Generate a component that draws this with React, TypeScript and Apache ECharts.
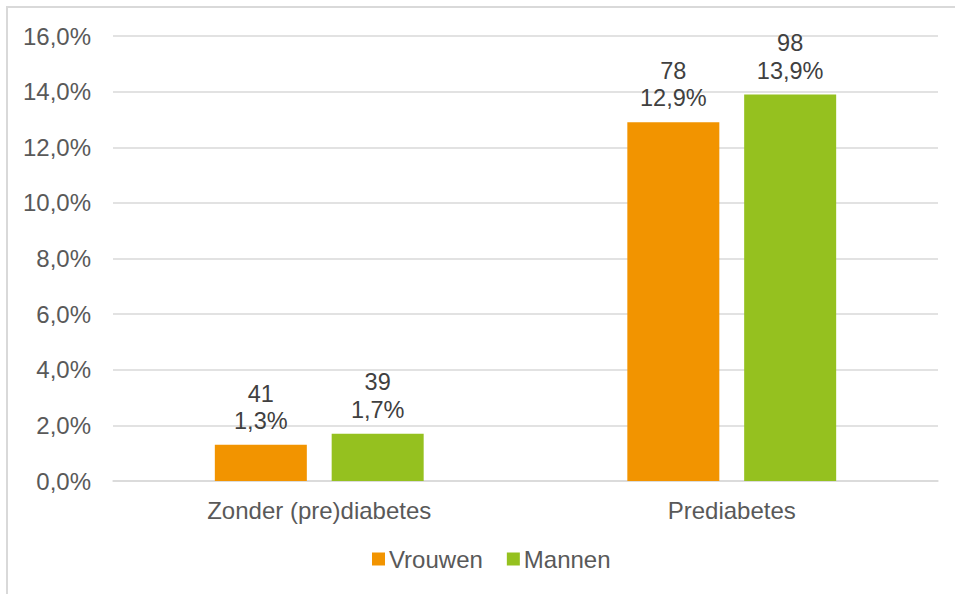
import React, { useEffect, useRef } from "react";
import * as echarts from "echarts";

const categories = ["Zonder (pre)diabetes", "Prediabetes"];
const vrouwenPct = [1.3, 12.9];
const vrouwenN = [41, 78];
const mannenPct = [1.7, 13.9];
const mannenN = [39, 98];
const seriesNames = ["Vrouwen", "Mannen"];

const FONT = "'Liberation Sans', Arial, sans-serif";
const fmt = (v: number) => v.toFixed(1).replace(".", ",");

export default function App() {
  const ref = useRef<HTMLDivElement>(null);
  useEffect(() => {
    document.body.style.margin = "0";
    const chart = echarts.init(ref.current!, null, { renderer: "svg" });
    const mkLabel = (counts: number[]) => ({
      show: true,
      position: "top" as const,
      distance: 10,
      color: "#404040",
      fontSize: 23.5,
      lineHeight: 27.5,
      fontFamily: FONT,
      formatter: (p: any) => `${counts[p.dataIndex]}\n${fmt(p.value)}%`,
    });
    chart.setOption({
      animation: false,
      backgroundColor: "#ffffff",
      textStyle: { fontFamily: FONT },
      graphic: [
        {
          type: "rect",
          shape: { x: 7, y: 7, width: 1100, height: 800 },
          style: { fill: "none", stroke: "#d9d9d9", lineWidth: 2 },
          silent: true,
          z: -1,
        },
      ],
      grid: { left: 113, right: 17, top: 36, bottom: 113, containLabel: false },
      legend: {
        data: seriesNames,
        bottom: 18,
        left: 367,
        itemWidth: 13,
        itemHeight: 13,
        itemGap: 24,
        icon: "rect",
        textStyle: { color: "#595959", fontSize: 24, fontFamily: FONT, padding: [0, 0, 0, -1] },
      },
      xAxis: {
        type: "category",
        data: categories,
        axisLine: { lineStyle: { color: "#d9d9d9", width: 1.5 } },
        axisTick: { show: false },
        axisLabel: { color: "#595959", fontSize: 24, fontFamily: FONT, margin: 17 },
      },
      yAxis: {
        type: "value",
        min: 0,
        max: 16,
        interval: 2,
        axisLine: { show: false },
        axisTick: { show: false },
        splitLine: { lineStyle: { color: "#d9d9d9", width: 1.5 } },
        axisLabel: {
          color: "#595959",
          fontSize: 24,
          fontFamily: FONT,
          margin: 22,
          formatter: (v: number) => `${fmt(v)}%`,
        },
      },
      series: [
        {
          name: seriesNames[0],
          type: "bar",
          data: vrouwenPct,
          barWidth: 92,
          barGap: "27%",
          itemStyle: { color: "#F29400" },
          label: mkLabel(vrouwenN),
        },
        {
          name: seriesNames[1],
          type: "bar",
          data: mannenPct,
          barWidth: 92,
          barGap: "27%",
          itemStyle: { color: "#95C11F" },
          label: mkLabel(mannenN),
        },
      ],
    });
    return () => chart.dispose();
  }, []);
  return <div ref={ref} style={{ width: 955, height: 594 }} />;
}
